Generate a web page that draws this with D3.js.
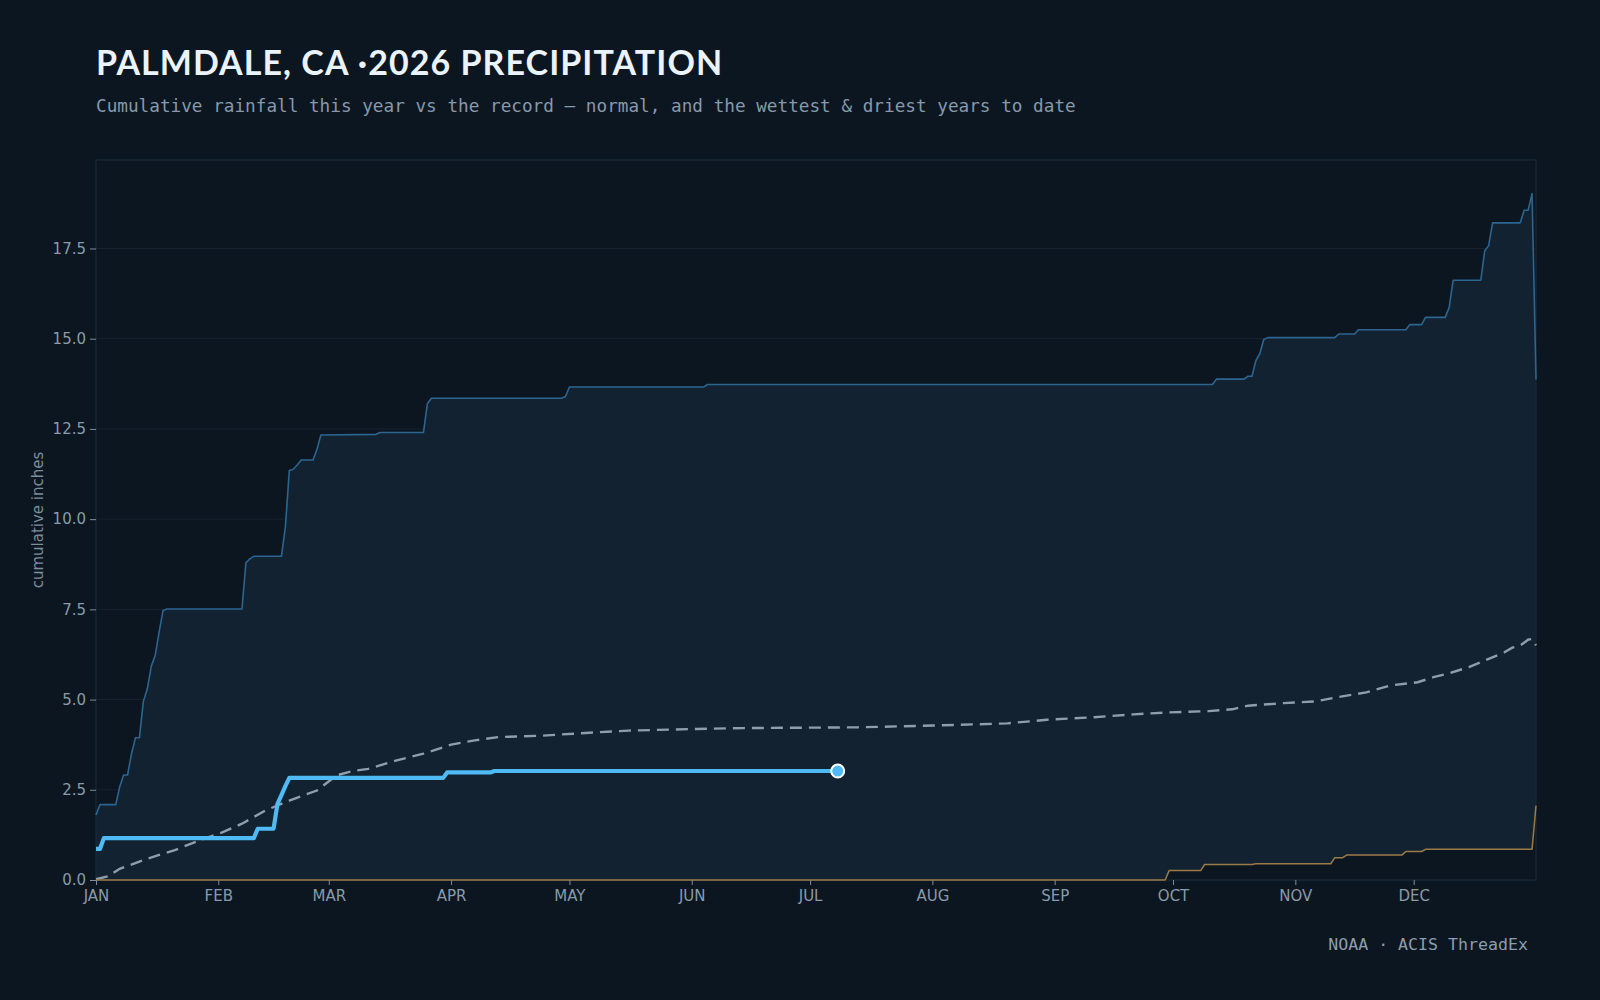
<!DOCTYPE html>
<html>
<head>
<meta charset="utf-8">
<script src="https://cdn.jsdelivr.net/npm/d3@7"></script>
<style>
    body { margin: 0; background: #0c1620; }
    svg { display: block; }
    .tick text { font-family: "DejaVu Sans", sans-serif; font-size: 15px; fill: #8a9aaa; }
    .tick line { stroke: #7d8d9b; }
</style>
</head>
<body>
<svg id="chart" width="1600" height="1000" viewBox="0 0 1600 1000"></svg>
<script>
// Month ticks (day of year) and labels
const monthStarts = [0, 31, 59, 90, 120, 151, 181, 212, 243, 273, 304, 334];
const monthLabels = ["JAN", "FEB", "MAR", "APR", "MAY", "JUN", "JUL", "AUG", "SEP", "OCT", "NOV", "DEC"];

// Wettest year to date (cumulative inches)
const wetDays = [0, 1, 5, 6, 7, 8, 9, 10, 11, 12, 13, 14, 15, 16, 17, 18, 37, 38, 39, 40, 47, 48, 49, 50, 51, 52, 55, 56, 57, 71, 72, 83, 84, 85, 118, 119, 120, 154, 155, 283, 284, 291, 292, 293, 294, 295, 296, 297, 314, 315, 319, 320, 332, 333, 336, 337, 342, 343, 344, 351, 352, 353, 354, 361, 362, 363, 364, 365];
const wetVals = [1.80, 2.09, 2.09, 2.58, 2.91, 2.91, 3.50, 3.94, 3.94, 4.95, 5.29, 5.92, 6.22, 6.87, 7.47, 7.51, 7.51, 8.79, 8.90, 8.97, 8.97, 9.78, 11.35, 11.38, 11.50, 11.64, 11.64, 11.93, 12.33, 12.35, 12.40, 12.40, 13.20, 13.35, 13.35, 13.40, 13.66, 13.66, 13.73, 13.73, 13.88, 13.88, 13.96, 13.96, 14.39, 14.59, 14.98, 15.03, 15.03, 15.13, 15.13, 15.25, 15.25, 15.39, 15.39, 15.59, 15.59, 15.87, 16.62, 16.62, 17.43, 17.58, 18.21, 18.21, 18.56, 18.56, 19.02, 13.87];

// Driest year to date
const dryDays = [0, 271, 272, 280, 281, 293, 294, 313, 314, 316, 317, 331, 332, 336, 337, 364, 365];
const dryVals = [0, 0, 0.26, 0.26, 0.43, 0.43, 0.45, 0.45, 0.62, 0.62, 0.69, 0.69, 0.79, 0.79, 0.85, 0.85, 2.06];

// Normal
const normalDays = [0, 3, 6, 13, 20, 26, 32, 37, 43, 49, 56, 61, 65, 69, 76, 83, 90, 96, 102, 113, 125, 135, 150, 164, 193, 212, 231, 241, 253, 263, 271, 282, 288, 292, 301, 309, 315, 322, 328, 335, 339, 343, 348, 352, 357, 359, 361, 363, 364, 365];
const normalVals = [0.02, 0.10, 0.31, 0.59, 0.83, 1.09, 1.32, 1.56, 1.93, 2.20, 2.48, 2.90, 3.02, 3.08, 3.31, 3.50, 3.75, 3.87, 3.96, 4.00, 4.08, 4.14, 4.18, 4.21, 4.23, 4.28, 4.34, 4.44, 4.51, 4.59, 4.64, 4.68, 4.73, 4.83, 4.90, 4.95, 5.07, 5.20, 5.39, 5.48, 5.62, 5.73, 5.90, 6.08, 6.31, 6.44, 6.50, 6.66, 6.68, 6.50];

// This year (2026)
const yearDays = [0, 1, 2, 40, 41, 45, 46, 47, 48, 49, 88, 89, 100, 101, 188];
const yearVals = [0.86, 0.86, 1.16, 1.16, 1.42, 1.42, 2.11, 2.35, 2.60, 2.83, 2.83, 2.98, 2.98, 3.02, 3.02];

const yTicks = [0, 2.5, 5, 7.5, 10, 12.5, 15, 17.5];

const zip = (days, vals) => days.map((d, i) => ({ day: d, v: vals[i] }));
const wet = zip(wetDays, wetVals);
const dry = zip(dryDays, dryVals);
const normal = zip(normalDays, normalVals);
const year = zip(yearDays, yearVals);

const svg = d3.select("#chart");
const bg = "#0c1620";
const margin = { left: 96, right: 64, top: 160, bottom: 120 };
const plotW = 1600 - margin.left - margin.right;
const plotH = 1000 - margin.top - margin.bottom;

svg.append("rect").attr("width", 1600).attr("height", 1000).attr("fill", bg);

// Title + subtitle
svg.append("text")
    .attr("x", 96).attr("y", 75)
    .style("font-family", "Lato, sans-serif").style("font-weight", 700).style("font-size", "34px")
    .style("letter-spacing", "1.05px")
    .attr("fill", "#eaf2fa")
    .text("PALMDALE, CA ·2026 PRECIPITATION");

svg.append("text")
    .attr("x", 96).attr("y", 112)
    .style("font-family", "'DejaVu Sans Mono', monospace").style("font-size", "17.7px")
    .attr("fill", "#8799aa")
    .text("Cumulative rainfall this year vs the record — normal, and the wettest & driest years to date");

// Scales
const x = d3.scaleLinear().domain([0, 365]).range([0, plotW]);
const y = d3.scaleLinear().domain([0, d3.max(wetVals) * 1.049]).range([plotH, 0]);

const g = svg.append("g").attr("transform", "translate(" + margin.left + "," + margin.top + ")");

// Gridlines
g.selectAll(".grid")
    .data(yTicks)
    .enter()
    .append("line")
    .attr("x1", 0).attr("x2", plotW)
    .attr("y1", d => y(d)).attr("y2", d => y(d))
    .attr("stroke", "#162330").attr("stroke-width", 1);

// Band between driest and wettest
const area = d3.area().x(d => x(d.day)).y0(y(0)).y1(d => y(d.v));
g.append("path").datum(wet).attr("d", area).attr("fill", "#122231");
g.append("path").datum(dry).attr("d", area).attr("fill", bg);

// Plot frame
g.append("rect")
    .attr("width", plotW).attr("height", plotH)
    .attr("fill", "none").attr("stroke", "#1a2b3b").attr("stroke-width", 1.2);

const line = d3.line().x(d => x(d.day)).y(d => y(d.v));

// Normal
g.append("path").datum(normal).attr("d", line)
    .attr("fill", "none").attr("stroke", "#8e9eac").attr("stroke-width", 2.4)
    .attr("stroke-dasharray", "12,7");

// Wettest
g.append("path").datum(wet).attr("d", line)
    .attr("fill", "none").attr("stroke", "#2c6590").attr("stroke-width", 1.6)
    .attr("stroke-linejoin", "round");

// Driest
g.append("path").datum(dry).attr("d", line)
    .attr("fill", "none").attr("stroke", "#9a7b48").attr("stroke-width", 1.5)
    .attr("stroke-linejoin", "round");

// This year
g.append("path").datum(year).attr("d", line)
    .attr("fill", "none").attr("stroke", "#4fbaf3").attr("stroke-width", 4.2)
    .attr("stroke-linejoin", "round");

const last = year[year.length - 1];
g.append("circle")
    .attr("cx", x(last.day)).attr("cy", y(last.v)).attr("r", 6.5)
    .attr("fill", "#4fbaf3").attr("stroke", "#ffffff").attr("stroke-width", 2);

// Axes
const xAxis = g.append("g")
    .attr("transform", "translate(0," + plotH + ")")
    .call(d3.axisBottom(x).tickValues(monthStarts).tickFormat((d, i) => monthLabels[i]).tickSize(5).tickPadding(5));
xAxis.select(".domain").remove();

const yAxis = g.append("g")
    .call(d3.axisLeft(y).tickValues(yTicks).tickFormat(d3.format(".1f")).tickSize(6).tickPadding(4));
yAxis.select(".domain").remove();

// Y label
svg.append("text")
    .attr("transform", "translate(43," + (margin.top + plotH / 2) + ") rotate(-90)")
    .attr("text-anchor", "middle")
    .style("font-family", "'DejaVu Sans', sans-serif").style("font-size", "15px")
    .attr("fill", "#7d8d9b")
    .text("cumulative inches");

// Source
svg.append("text")
    .attr("x", 1528).attr("y", 950)
    .attr("text-anchor", "end")
    .style("font-family", "'DejaVu Sans Mono', monospace").style("font-size", "16.6px")
    .attr("fill", "#8d9dad")
    .text("NOAA · ACIS ThreadEx");
</script>
</body>
</html>
